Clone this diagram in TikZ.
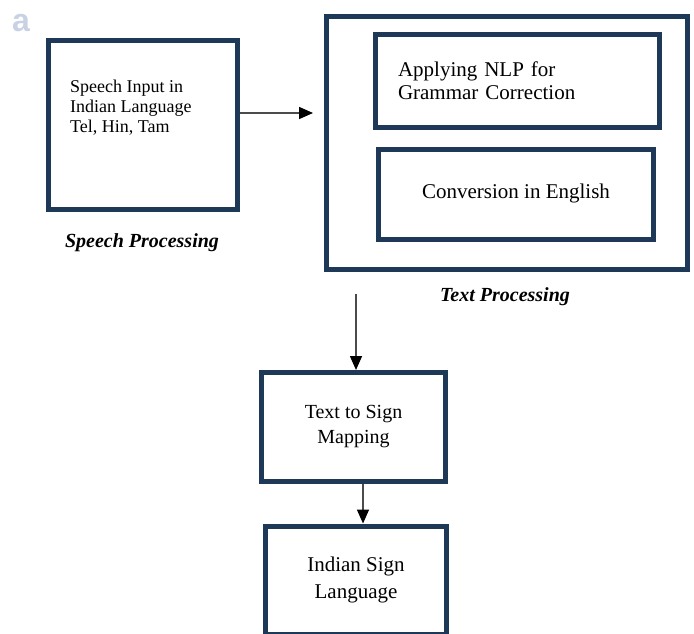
\documentclass[tikz,border=0pt]{standalone}
\usepackage{fontspec}
\setmainfont{Liberation Serif}
\setsansfont{Liberation Sans}
\usetikzlibrary{arrows.meta, positioning, calc}
\definecolor{BoxNavy}{RGB}{30, 56, 87}
\definecolor{FlowGray}{RGB}{75, 75, 75}
\definecolor{PanelTag}{RGB}{201, 210, 229}

\begin{document}
\begin{tikzpicture}[
    x=1pt,
    y=-1pt,
    stagebox/.style={
        rectangle,
        draw=BoxNavy,
        line width=5pt,
        fill=white,
        inner sep=0pt,
        align=center
    },
    flowarrow/.style={
        draw=FlowGray,
        line width=1.6pt,
        -{Triangle[length=14pt,width=12pt,color=black]}
    },
    stagelabel/.style={
        font=\fontsize{20pt}{22pt}\selectfont\bfseries\itshape,
        inner sep=0pt
    }
]
\useasboundingbox (0,0) rectangle (694,634);
\clip (0,0) rectangle (694,634);
% -------------------------------------------------------------
% PANEL TAG
% -------------------------------------------------------------
\node[
    font=\fontsize{32pt}{32pt}\selectfont\sffamily\bfseries,
    text=PanelTag,
    inner sep=0pt
] (panelTag) at (21,23) {a};
% -------------------------------------------------------------
% SPEECH PROCESSING
% -------------------------------------------------------------
\node[stagebox, minimum width=189pt, minimum height=169pt] (speechNode) at (143,125) {};
\node[
    font=\fontsize{18pt}{20pt}\selectfont,
    align=left,
    anchor=west,
    inner sep=0pt
] (speechText) at (70,107.5)
{
    Speech Input in\\
    Indian Language\\
    Tel, Hin, Tam
};
\node[stagelabel] (speechLabel) at (142,243) {Speech Processing};
% -------------------------------------------------------------
% TEXT PROCESSING
% -------------------------------------------------------------
\node[stagebox, minimum width=361pt, minimum height=253pt] (textNode) at (507,143) {};
\node[
    stagebox,
    minimum width=284pt,
    minimum height=93pt,
    text width=239pt,
    inner xsep=22.5pt,
    align=left,
    font=\fontsize{21pt}{23pt}\selectfont
] (nlpNode) at (517.5,81)
{
    Applying NLP for\\
    Grammar Correction
};
\node[
    stagebox,
    minimum width=275pt,
    minimum height=90pt,
    font=\fontsize{21pt}{23pt}\selectfont
] (englishNode) at (516,194.5)
{\raisebox{6pt}{Conversion in English}};
\node[stagelabel] (textLabel) at (505,297) {Text Processing};
% -------------------------------------------------------------
% SIGN MAPPING
% -------------------------------------------------------------
\node[
    stagebox,
    minimum width=184pt,
    minimum height=109pt,
    font=\fontsize{20pt}{25pt}\selectfont
] (mapNode) at (353.5,427)
{
    Text to Sign\\
    Mapping
};
% -------------------------------------------------------------
% SIGN LANGUAGE OUTPUT
% -------------------------------------------------------------
\node[
    stagebox,
    minimum width=181pt,
    minimum height=108pt,
    font=\fontsize{21pt}{25pt}\selectfont
] (signNode) at (356,580)
{
    \raisebox{2pt}{Indian Sign}\\
    Language
};
% -------------------------------------------------------------
% ARROWS
% -------------------------------------------------------------
\draw[flowarrow]
($(speechNode.east)+(0,-12)$)
--
($(textNode.west |- speechNode.east)+(-11,-12)$);
\coordinate (dropPoint) at (356,294);
\draw[flowarrow] (dropPoint) -- (dropPoint |- mapNode.north);
\coordinate (passPoint) at ($(mapNode.south)+(9.5,0)$);
\draw[flowarrow] (passPoint) -- (passPoint |- signNode.north);
\end{tikzpicture}
\end{document}
